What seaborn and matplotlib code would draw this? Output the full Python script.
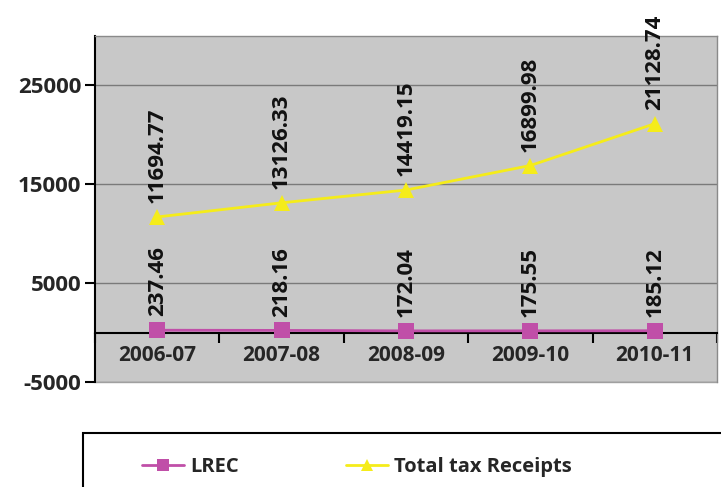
import matplotlib
matplotlib.use('Agg')
import matplotlib.pyplot as plt
import matplotlib.patches as mpatches
import pandas as pd
import seaborn as sns

years = ['2006-07', '2007-08', '2008-09', '2009-10', '2010-11']
lrec = [237.46, 218.16, 172.04, 175.55, 185.12]
total_tax = [11694.77, 13126.33, 14419.15, 16899.98, 21128.74]
series_names = ['LREC', 'Total tax Receipts']
y_ticks = [-5000, 5000, 15000, 25000]

df = pd.DataFrame({
    'Year': years * 2,
    'Value': lrec + total_tax,
    'Series': [series_names[0]] * len(years) + [series_names[1]] * len(years),
})

sns.set_style('white')
plt.rcParams['font.family'] = ['Open Sans', 'DejaVu Sans']
plt.rcParams['axes.unicode_minus'] = False

fig = plt.figure(figsize=(7.21, 4.87), dpi=100)
ax = fig.add_axes([95 / 721, 1 - 382 / 487, 622 / 721, 346 / 487])
ax.set_facecolor('#c8c8c8')

colors = {'LREC': '#c04fa8', 'Total tax Receipts': '#f5ec1a'}
sns.lineplot(data=df, x='Year', y='Value', hue='Series', style='Series',
             markers={'LREC': 's', 'Total tax Receipts': '^'}, dashes=False,
             palette=colors, markersize=11, linewidth=2, markeredgewidth=0,
             sort=False, ax=ax, zorder=3)

# value labels above each point
for vals in (lrec, total_tax):
    for i, v in enumerate(vals):
        ax.annotate(f'{v:.2f}', xy=(i, v), xytext=(0, 10), textcoords='offset points',
                    rotation=90, ha='center', va='bottom', fontsize=16,
                    fontweight='bold', color='#111111', annotation_clip=False)

ax.set_xlim(-0.5, 4.5)
ax.set_ylim(-5000, 30000)
ax.set_yticks(y_ticks)
ax.yaxis.grid(True, color='#7a7a7a', linewidth=1)
ax.set_axisbelow(True)
ax.set_xlabel('')
ax.set_ylabel('')

# x axis crosses at zero, tick marks between categories
ax.spines['bottom'].set_position(('data', 0))
ax.spines['bottom'].set_color('black')
ax.spines['bottom'].set_linewidth(1.5)
ax.spines['left'].set_color('black')
ax.spines['left'].set_linewidth(1.5)
for s in ('top', 'right'):
    ax.spines[s].set_color('#8a8a8a')
    ax.spines[s].set_linewidth(1)
ax.axhline(-5000, color='#a0a0a0', linewidth=1, clip_on=False)

ax.set_xticks(range(len(years)))
ax.set_xticklabels(years)
ax.set_xticks([i - 0.5 for i in range(len(years) + 1)], minor=True)
ax.tick_params(axis='x', which='major', length=0, pad=9, labelsize=15)
ax.tick_params(axis='x', which='minor', length=7, width=1.5, direction='out', color='black', bottom=True)
ax.tick_params(axis='y', length=7, width=1.5, direction='out', color='black', left=True, labelsize=16, pad=3)
for lab in ax.get_xticklabels() + ax.get_yticklabels():
    lab.set_fontweight('bold')

# legend box at the bottom, running off the figure
handles, labels = ax.get_legend_handles_labels()
ax.get_legend().remove()
box = mpatches.Rectangle((83 / 721, -0.05), 0.9, (487 - 433) / 487 + 0.05,
                         transform=fig.transFigure, facecolor='white',
                         edgecolor='black', linewidth=1.5, clip_on=False)
fig.patches.append(box)
leg = fig.legend(handles, labels, loc='center', bbox_to_anchor=(357 / 721, 1 - 467 / 487),
                 ncol=2, frameon=False, columnspacing=5.3, handlelength=2.1,
                 handletextpad=0.3, prop={'weight': 'bold', 'size': 14.5})
for h in leg.legend_handles:
    h.set_markersize(9)

fig.savefig('out.png', dpi=100)
